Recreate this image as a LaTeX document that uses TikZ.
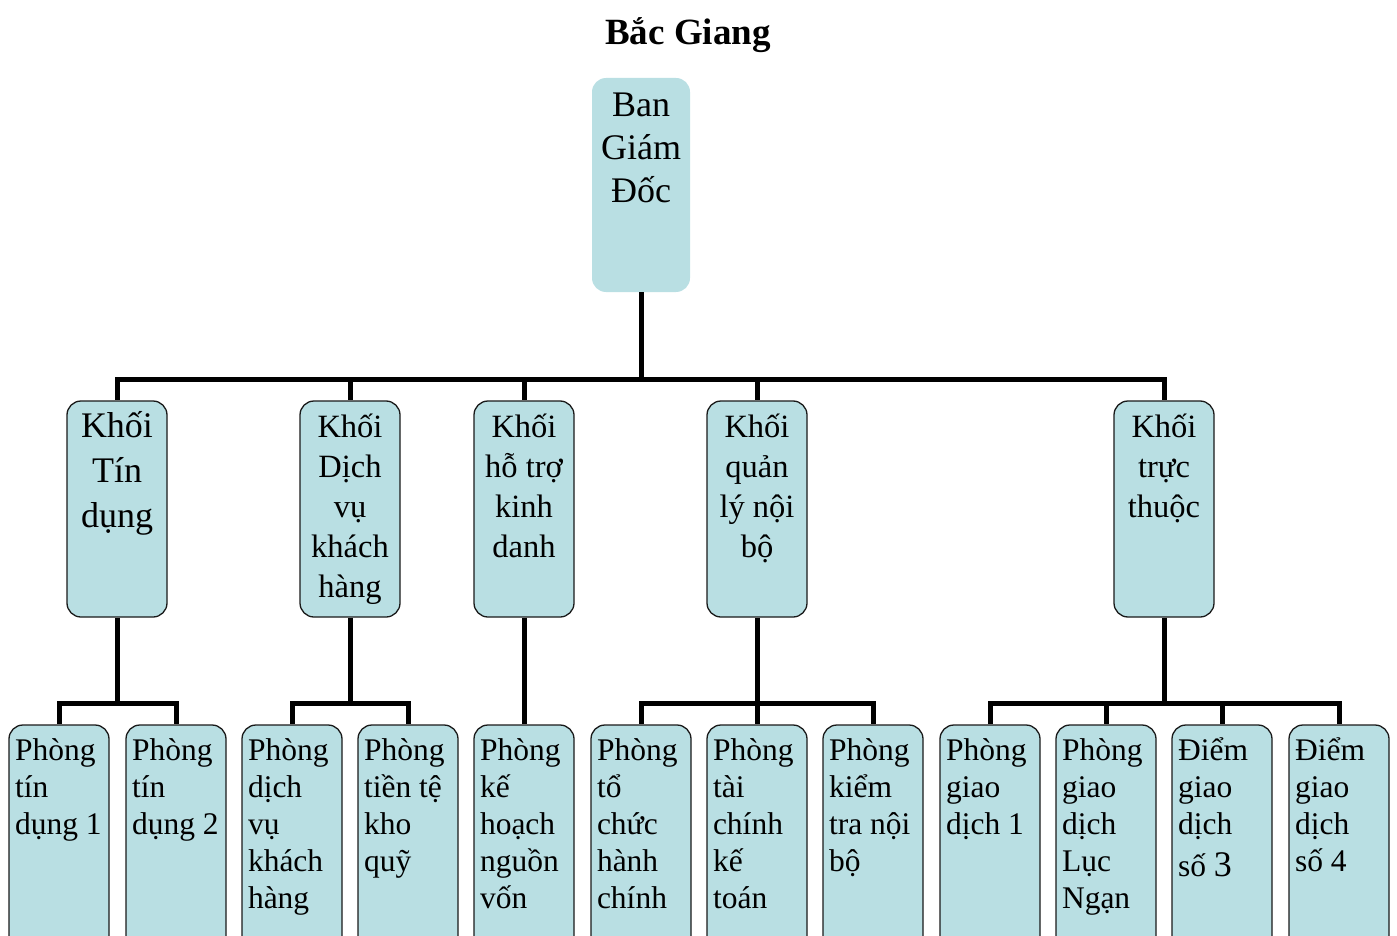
\documentclass[tikz,border=0pt]{standalone}
\usepackage{fontspec}
\setmainfont{Liberation Serif}
\usetikzlibrary{positioning}
\definecolor{boxfill}{HTML}{B9DFE3}
\definecolor{boxline}{HTML}{1A1A1A}
\tikzset{
  bgdbox/.style={fill=boxfill, rounded corners=14pt, inner sep=0pt,
                 font=\fontsize{36}{43}\selectfont},
  khoi/.style={draw=boxline, line width=1.3pt, fill=boxfill, rounded corners=14pt,
               inner sep=0pt, font=\fontsize{32.5}{40}\selectfont},
  phong/.style={draw=boxline, line width=1.3pt, fill=boxfill, rounded corners=14pt,
                inner sep=0pt, font=\fontsize{31.5}{37}\selectfont},
  link/.style={line width=5pt, draw=black},
  ttl/.style={font=\fontsize{37}{44}\selectfont\bfseries, anchor=base},
}
\newcommand{\bgdtxt}[1]{\parbox[c][214pt][t]{98pt}{\centering\rule{0pt}{39pt}#1}}
\newcommand{\khoitxt}[1]{\parbox[c][216pt][t]{100pt}{\centering\rule{0pt}{36pt}#1}}
\newcommand{\phongtxt}[1]{\parbox[c][240pt][t]{100pt}{\raggedright\leftskip=6pt\rule{0pt}{35pt}#1}}

\begin{document}
\begin{tikzpicture}[x=1pt,y=-1pt]
\useasboundingbox (0,0) rectangle (1397,936);
\clip (0,0) rectangle (1397,936);
% title
\node[ttl] (title) at (688,45) {Bắc Giang};
% top
\node[bgdbox] (bgd) at (641,185) {\bgdtxt{Ban\\Giám\\Đốc}};
% ---- khoi ----
\node[khoi,font=\fontsize{36}{45}\selectfont] (ktd) at (117,509) {\khoitxt{Khối\\Tín\\dụng}};
\node[khoi] (kdv) at (350,509)  {\khoitxt{Khối\\Dịch\\vụ\\khách\\hàng}};
\node[khoi] (kht) at (524,509)  {\khoitxt{Khối\\hỗ trợ\\kinh\\danh}};
\node[khoi] (kql) at (757,509)  {\khoitxt{Khối\\quản\\lý nội\\bộ}};
\node[khoi] (ktt) at (1164,509) {\khoitxt{Khối\\trực\\thuộc}};
% ---- phong ----
\node[phong] (ptd1)  at (59,845)   {\phongtxt{Phòng\\tín\\dụng 1}};
\node[phong] (ptd2)  at (176,845)  {\phongtxt{Phòng\\tín\\dụng 2}};
\node[phong] (pdv)   at (292,845)  {\phongtxt{Phòng\\dịch\\vụ\\khách\\hàng}};
\node[phong] (ptt)   at (408,845)  {\phongtxt{Phòng\\tiền tệ\\kho\\quỹ}};
\node[phong] (pkh)   at (524,845)  {\phongtxt{Phòng\\kế\\hoạch\\nguồn\\vốn}};
\node[phong] (ptc)   at (641,845)  {\phongtxt{Phòng\\tổ\\chức\\hành\\chính}};
\node[phong] (ptk)   at (757,845)  {\phongtxt{Phòng\\tài\\chính\\kế\\toán}};
\node[phong] (pkt)   at (873,845)  {\phongtxt{Phòng\\kiểm\\tra nội\\bộ}};
\node[phong] (pgd1)  at (990,845)  {\phongtxt{Phòng\\giao\\dịch 1}};
\node[phong] (pgdln) at (1106,845) {\phongtxt{Phòng\\giao\\dịch\\Lục\\Ngạn}};
\node[phong] (dgd3)  at (1222,845) {\phongtxt{Điểm\\giao\\dịch\\[5pt]số {\fontsize{36}{37}\selectfont 3}}};
\node[phong] (dgd4)  at (1339,845) {\phongtxt{Điểm\\giao\\dịch\\số 4}};
% ---- connections ----
\draw[link] (bgd.south) -- ++(0,87) coordinate (bus0);
\foreach \k in {ktd,kdv,kht,kql,ktt} \draw[link] (bus0) -| (\k.north);
\draw[link] (ktd.south) -- ++(0,86) coordinate (busa);
\foreach \p in {ptd1,ptd2} \draw[link] (busa) -| (\p.north);
\draw[link] (kdv.south) -- ++(0,86) coordinate (busb);
\foreach \p in {pdv,ptt} \draw[link] (busb) -| (\p.north);
\draw[link] (kht.south) -- (pkh.north);
\draw[link] (kql.south) -- ++(0,86) coordinate (busc);
\foreach \p in {ptc,ptk,pkt} \draw[link] (busc) -| (\p.north);
\draw[link] (ktt.south) -- ++(0,86) coordinate (busd);
\foreach \p in {pgd1,pgdln,dgd3,dgd4} \draw[link] (busd) -| (\p.north);
\end{tikzpicture}
\end{document}
